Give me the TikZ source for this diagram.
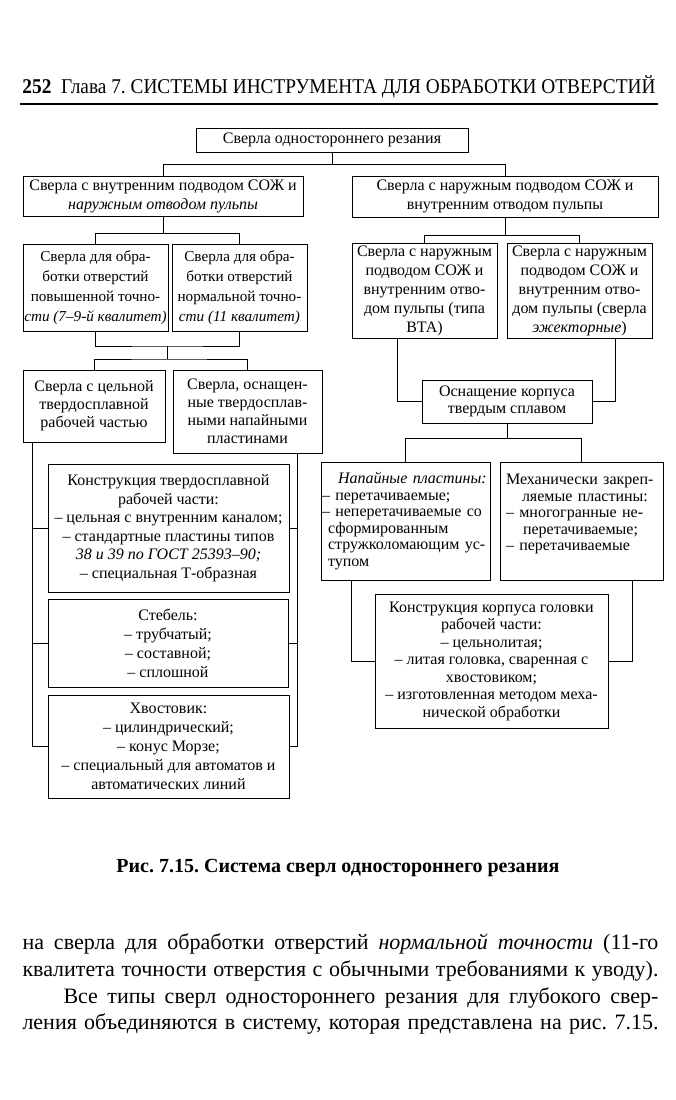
\documentclass[tikz,border=0pt]{standalone}
\usepackage{fontspec}
\setmainfont{Liberation Serif}
\usepackage{graphicx}
\usetikzlibrary{calc}
\frenchspacing

\tikzset{
	blok/.style={draw, line width=1pt, inner sep=1pt, align=center, font=\fontsize{16}{19}\selectfont},
	spisok/.style={blok, align=left, text width=#1},
	stroka/.style={anchor=west, inner sep=0pt, font=\fontsize{22}{26}\selectfont}
}

\begin{document}
\begin{tikzpicture}[x=1pt, y=-1pt, line width=1pt]
%	\draw [help lines] (0,0) grid (675,1100);
	\useasboundingbox (0,0) rectangle (675,1100);
	%Zagolovok
	\node [anchor=base west, inner sep=0pt] (head) at (22,93) {\resizebox{633pt}{\height}{\fontsize{21}{24}\selectfont\textbf{252}\ \ Глава 7. СИСТЕМЫ ИНСТРУМЕНТА ДЛЯ ОБРАБОТКИ ОТВЕРСТИЙ}};
	\draw [line width=1.8pt] (20,104) -- (658,104);
	%Verh
	\node [blok, minimum width=272pt, minimum height=24pt] (top) at (332,140) {Сверла одностороннего резания};
	\node [blok, minimum width=280pt, minimum height=40pt] (L1) at (163,196) {Сверла с внутренним подводом СОЖ и\\\textit{наружным отводом пульпы}};
	\node [blok, minimum width=306pt, minimum height=41pt] (R1) at (505,196.5) {Сверла с наружным подводом СОЖ и\\внутренним отводом пульпы};
	%Levaya vetv
	\node [blok, font=\fontsize{15.2}{20}\selectfont, minimum width=145pt, minimum height=87pt] (L2a) at (95.5,288) {Сверла для обра-\\ботки отверстий\\повышенной точно-\\\textit{сти (7--9-й квалитет)}};
	\node [blok, font=\fontsize{15.2}{20}\selectfont, minimum width=135pt, minimum height=87pt] (L2b) at (239.5,288) {Сверла для обра-\\ботки отверстий\\нормальной точно-\\\textit{сти (11 квалитет)}};
	\node [blok, font=\fontsize{16}{18}\selectfont, minimum width=142pt, minimum height=72pt] (L3a) at (94,406) {Сверла с цельной\\твердосплавной\\рабочей частью};
	\node [blok, font=\fontsize{16}{18}\selectfont, minimum width=149pt, minimum height=83pt] (L3b) at (247.5,411.5) {Сверла, оснащен-\\ные твердосплав-\\ными напайными\\пластинами};
	\node [blok, font=\fontsize{16}{18.5}\selectfont, minimum width=241pt, minimum height=128pt] (C1) at (168.5,528) {Конструкция твердосплавной\\рабочей части:\\-- цельная с внутренним каналом;\\-- стандартные пластины типов\\\textit{38 и 39 по ГОСТ 25393--90;}\\-- специальная Т-образная};
	\node [blok, minimum width=240pt, minimum height=88pt] (C2) at (168,643) {Стебель:\\-- трубчатый;\\-- составной;\\-- сплошной};
	\node [blok, minimum width=241pt, minimum height=103pt] (C3) at (168.5,746.5) {Хвостовик:\\-- цилиндрический;\\-- конус Морзе;\\-- специальный для автоматов и\\автоматических линий};
	%Pravaya vetv
	\node [blok, minimum width=145pt, minimum height=95pt] (R2a) at (424.5,290.5) {Сверла с наружным\\подводом СОЖ и\\внутренним отво-\\дом пульпы (типа\\ВТА)};
	\node [blok, minimum width=145pt, minimum height=95pt] (R2b) at (579.5,290.5) {Сверла с наружным\\подводом СОЖ и\\внутренним отво-\\дом пульпы (сверла\\\textit{эжекторные})};
	\node [blok, font=\fontsize{16}{17}\selectfont, minimum width=170pt, minimum height=43pt] (R3) at (507,401.5) {Оснащение корпуса\\твердым сплавом};
	\node [spisok=167pt, font=\fontsize{16}{16.5}\selectfont, minimum height=118pt] (R4a) at (405.5,521) {\hspace*{16pt}\mbox{\textit{Напайные пластины:}}\\-- перетачиваемые;\\-- неперетачиваемые со\\\hspace*{6pt}сформированным\\\hspace*{6pt}стружколомающим ус-\\\hspace*{6pt}тупом};
	\node [spisok=161pt, font=\fontsize{16}{16.5}\selectfont, minimum height=118pt] (R4b) at (581.5,521) {\hspace*{5pt}Механически закреп-\\\hspace*{21pt}ляемые пластины:\\\hspace*{5pt}-- многогранные не-\\\hspace*{22pt}перетачиваемые;\\\hspace*{5pt}-- перетачиваемые\\\mbox{}};
	\node [blok, font=\fontsize{16}{17.5}\selectfont, minimum width=233pt, minimum height=134pt] (R5) at (491.5,661) {Конструкция корпуса головки\\рабочей части:\\-- цельнолитая;\\-- литая головка, сваренная с\\хвостовиком;\\-- изготовленная методом меха-\\нической обработки};
	%Svyazi
	\draw (top.south) -- ++(0,12) coordinate (t0);
	\draw (L1.north) |- (t0) -| (R1.north);
	\draw (L1.south) -- ++(0,17) coordinate (t1);
	\draw (L2a.north) |- (t1) -| (L2b.north);
	\draw (R1.south) -- ++(0,18) coordinate (t2);
	\draw (R2a.north) |- (t2) -| (R2b.north);
	\coordinate (t3) at ($(L2a.south)!0.5!(L2b.south)+(0,14)$);
	\draw (L2a.south) |- (t3) -| (L2b.south);
	\draw (t3) -- ++(0,13) coordinate (t4);
	\draw (L3a.north) |- (t4) -| (L3b.north);
	\coordinate (spL) at ($(L3a.south west)+(10,0)$);
	\coordinate (spR) at ($(L3b.south east)+(-25,0)$);
	\draw (spL) |- (C3.west);
	\draw (spR) |- (C3.east);
	\draw (C1.west) -- (C1.west -| spL);
	\draw (C2.west) -- (C2.west -| spL);
	\draw (C1.east) -- (C1.east -| spR);
	\draw (C2.east) -- (C2.east -| spR);
	\draw ($(R2a.south west)+(46,0)$) |- (R3.west);
	\draw ($(R2b.south east)+(-37,0)$) |- (R3.east);
	\draw (R3.south) -- ++(0,15) coordinate (t5);
	\draw (R4a.north) |- (t5) -| (R4b.north);
	\draw ($(R4a.south west)+(31,0)$) |- (R5.west);
	\draw ($(R4b.south east)+(-31,0)$) |- (R5.east);
	%Podpis
	\node [font=\fontsize{20}{24}\selectfont\bfseries] (cap) at (338,868) {Рис. 7.15. Система сверл одностороннего резания};
	%Tekst
	\node [stroka] (p1) at (22,944) {\makebox[636pt][s]{на сверла для обработки отверстий \textit{нормальной точности} (11-го}};
	\node [stroka] (p2) at (22,971) {\makebox[636pt][s]{квалитета точности отверстия с обычными требованиями к уводу).}};
	\node [stroka] (p3) at (63,998) {\makebox[595pt][s]{Все типы сверл одностороннего резания для глубокого свер-}};
	\node [stroka] (p4) at (22,1024) {\makebox[636pt][s]{ления объединяются в систему, которая представлена на рис. 7.15.}};
\end{tikzpicture}
\end{document}
